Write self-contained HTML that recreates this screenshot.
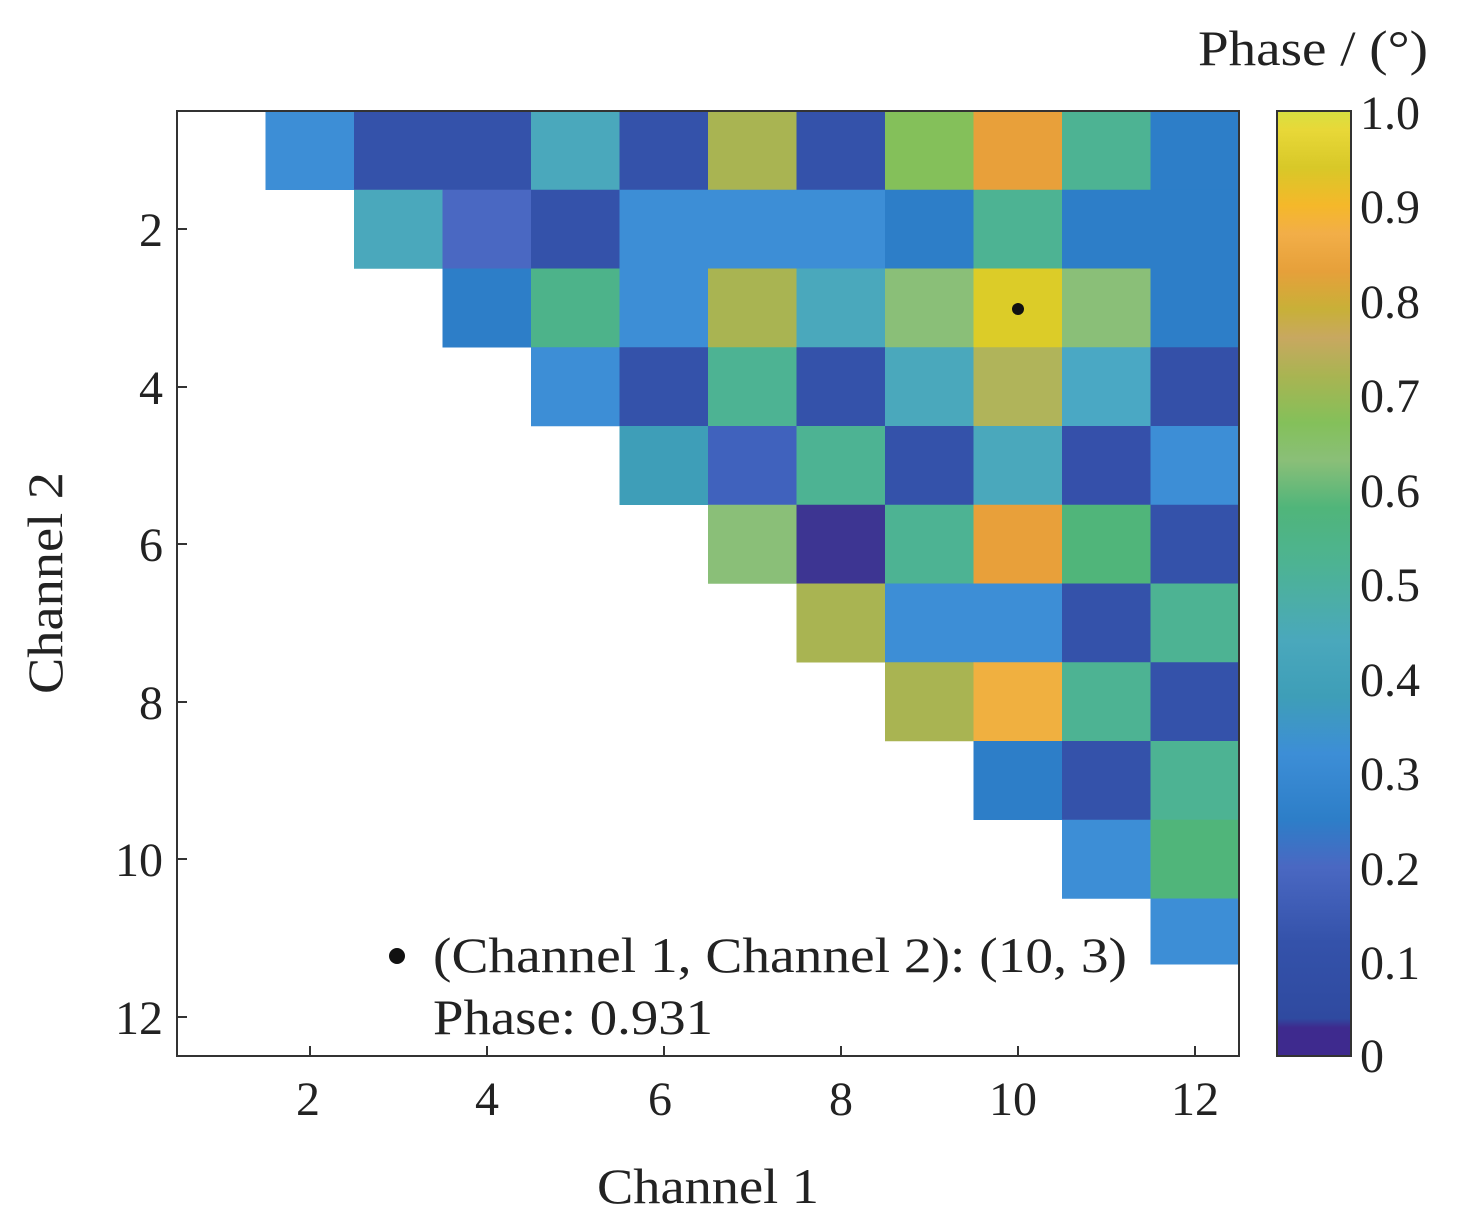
<!DOCTYPE html>
<html><head><meta charset="utf-8"><style>
body{margin:0;background:#fff;}
svg{display:block;font-family:"Liberation Serif",serif;}
</style></head><body>
<svg width="1476" height="1232" viewBox="0 0 1476 1232" xmlns="http://www.w3.org/2000/svg">
<rect width="1476" height="1232" fill="#fff"/>
<g>
<!-- row1 y=111 -->
<rect x="265.5" y="111" width="89" height="79" fill="#3d8ed6"/>
<rect x="354" y="111" width="89" height="79" fill="#3452aa"/>
<rect x="442.5" y="111" width="89" height="79" fill="#3452aa"/>
<rect x="531" y="111" width="89" height="79" fill="#4aa8bc"/>
<rect x="619.5" y="111" width="89" height="79" fill="#3452aa"/>
<rect x="708" y="111" width="89" height="79" fill="#a9b452"/>
<rect x="796.5" y="111" width="89" height="79" fill="#3452aa"/>
<rect x="885" y="111" width="89" height="79" fill="#84c05a"/>
<rect x="973.5" y="111" width="89" height="79" fill="#e8a03a"/>
<rect x="1062" y="111" width="89" height="79" fill="#4db393"/>
<rect x="1150.5" y="111" width="89" height="79" fill="#2d7ec8"/>
<!-- row2 -->
<rect x="354" y="189.75" width="89" height="79" fill="#4aa8bc"/>
<rect x="442.5" y="189.75" width="89" height="79" fill="#4a68c2"/>
<rect x="531" y="189.75" width="89" height="79" fill="#3452aa"/>
<rect x="619.5" y="189.75" width="266" height="79" fill="#3d8ed6"/>
<rect x="885" y="189.75" width="89" height="79" fill="#2d7ec8"/>
<rect x="973.5" y="189.75" width="89" height="79" fill="#4db393"/>
<rect x="1062" y="189.75" width="178" height="79" fill="#2d7ec8"/>
<!-- row3 -->
<rect x="442.5" y="268.5" width="89" height="79" fill="#2d7ec8"/>
<rect x="531" y="268.5" width="89" height="79" fill="#4db38a"/>
<rect x="619.5" y="268.5" width="89" height="79" fill="#3d8ed6"/>
<rect x="708" y="268.5" width="89" height="79" fill="#a9b452"/>
<rect x="796.5" y="268.5" width="89" height="79" fill="#4aa8bc"/>
<rect x="885" y="268.5" width="89" height="79" fill="#8abf78"/>
<rect x="973.5" y="268.5" width="89" height="79" fill="#dccc28"/>
<rect x="1062" y="268.5" width="89" height="79" fill="#8abf78"/>
<rect x="1150.5" y="268.5" width="89" height="79" fill="#2d7ec8"/>
<!-- row4 -->
<rect x="531" y="347.25" width="89" height="79" fill="#3d8ed6"/>
<rect x="619.5" y="347.25" width="89" height="79" fill="#3452aa"/>
<rect x="708" y="347.25" width="89" height="79" fill="#4db393"/>
<rect x="796.5" y="347.25" width="89" height="79" fill="#3452aa"/>
<rect x="885" y="347.25" width="89" height="79" fill="#4aa8bc"/>
<rect x="973.5" y="347.25" width="89" height="79" fill="#b0b45a"/>
<rect x="1062" y="347.25" width="89" height="79" fill="#4aa8c4"/>
<rect x="1150.5" y="347.25" width="89" height="79" fill="#3450a8"/>
<!-- row5 -->
<rect x="619.5" y="426" width="89" height="79" fill="#3e9eb8"/>
<rect x="708" y="426" width="89" height="79" fill="#4062bd"/>
<rect x="796.5" y="426" width="89" height="79" fill="#4db393"/>
<rect x="885" y="426" width="89" height="79" fill="#3452aa"/>
<rect x="973.5" y="426" width="89" height="79" fill="#4aa8bc"/>
<rect x="1062" y="426" width="89" height="79" fill="#3550aa"/>
<rect x="1150.5" y="426" width="89" height="79" fill="#3d8ed6"/>
<!-- row6 -->
<rect x="708" y="504.75" width="89" height="79" fill="#8abf78"/>
<rect x="796.5" y="504.75" width="89" height="79" fill="#3d3592"/>
<rect x="885" y="504.75" width="89" height="79" fill="#4db393"/>
<rect x="973.5" y="504.75" width="89" height="79" fill="#e8a03a"/>
<rect x="1062" y="504.75" width="89" height="79" fill="#50b57a"/>
<rect x="1150.5" y="504.75" width="89" height="79" fill="#3452aa"/>
<!-- row7 -->
<rect x="796.5" y="583.5" width="89" height="79" fill="#a9b452"/>
<rect x="885" y="583.5" width="178" height="79" fill="#3d8ed6"/>
<rect x="1062" y="583.5" width="89" height="79" fill="#3452aa"/>
<rect x="1150.5" y="583.5" width="89" height="79" fill="#4db393"/>
<!-- row8 -->
<rect x="885" y="662.25" width="89" height="79" fill="#a9b452"/>
<rect x="973.5" y="662.25" width="89" height="79" fill="#f0b040"/>
<rect x="1062" y="662.25" width="89" height="79" fill="#4db393"/>
<rect x="1150.5" y="662.25" width="89" height="79" fill="#3452aa"/>
<!-- row9 -->
<rect x="973.5" y="741" width="89" height="79" fill="#2d7ec8"/>
<rect x="1062" y="741" width="89" height="79" fill="#3452aa"/>
<rect x="1150.5" y="741" width="89" height="79" fill="#4db393"/>
<!-- row10 -->
<rect x="1062" y="819.75" width="89" height="79" fill="#3d8ed6"/>
<rect x="1150.5" y="819.75" width="89" height="79" fill="#50b57a"/>
<!-- row11 -->
<rect x="1150.5" y="898.5" width="89" height="66" fill="#3d8ed6"/>
</g>
<defs><linearGradient id="cb" x1="0" y1="1" x2="0" y2="0">
<stop offset="0" stop-color="#3e2a8e"/><stop offset="0.03" stop-color="#3e2a8e"/>
<stop offset="0.04" stop-color="#2f4aa0"/><stop offset="0.12" stop-color="#3452aa"/>
<stop offset="0.2" stop-color="#4a68c2"/><stop offset="0.25" stop-color="#2d7ec8"/>
<stop offset="0.32" stop-color="#3d8ed6"/><stop offset="0.38" stop-color="#3e9eb8"/>
<stop offset="0.44" stop-color="#4aa8bc"/><stop offset="0.52" stop-color="#4db393"/>
<stop offset="0.58" stop-color="#50b57a"/><stop offset="0.63" stop-color="#8abf78"/>
<stop offset="0.67" stop-color="#84c05a"/><stop offset="0.72" stop-color="#a9b452"/>
<stop offset="0.76" stop-color="#c8a860"/><stop offset="0.79" stop-color="#c8b038"/>
<stop offset="0.83" stop-color="#e6a03a"/><stop offset="0.87" stop-color="#f2ae48"/>
<stop offset="0.9" stop-color="#f5b82a"/><stop offset="0.94" stop-color="#d8c828"/>
<stop offset="0.98" stop-color="#e8d838"/><stop offset="1" stop-color="#d8e040"/>
</linearGradient></defs>
<rect x="177" y="111" width="1062" height="945" fill="none" stroke="#333" stroke-width="2"/>
<g stroke="#333" stroke-width="2">
<line x1="310" y1="1056" x2="310" y2="1046"/><line x1="487" y1="1056" x2="487" y2="1046"/>
<line x1="664" y1="1056" x2="664" y2="1046"/><line x1="841" y1="1056" x2="841" y2="1046"/>
<line x1="1018" y1="1056" x2="1018" y2="1046"/><line x1="1195" y1="1056" x2="1195" y2="1046"/>
<line x1="177" y1="229" x2="187" y2="229"/><line x1="177" y1="387" x2="187" y2="387"/>
<line x1="177" y1="544" x2="187" y2="544"/><line x1="177" y1="702" x2="187" y2="702"/>
<line x1="177" y1="859" x2="187" y2="859"/><line x1="177" y1="1017" x2="187" y2="1017"/>
</g>
<g font-size="48" fill="#222" text-anchor="middle">
<text x="308" y="1115">2</text><text x="487" y="1115">4</text><text x="660" y="1115">6</text>
<text x="841" y="1115">8</text><text x="1013" y="1115">10</text><text x="1195" y="1115">12</text>
</g>
<g font-size="48" fill="#222" text-anchor="end">
<text x="163" y="246">2</text><text x="163" y="404">4</text><text x="163" y="561">6</text>
<text x="163" y="719">8</text><text x="163" y="876">10</text><text x="163" y="1034">12</text>
</g>
<text x="597" y="1203" font-size="50" fill="#222" textLength="222" lengthAdjust="spacingAndGlyphs">Channel 1</text>
<text transform="translate(62,694) rotate(-90)" font-size="50" fill="#222" textLength="222" lengthAdjust="spacingAndGlyphs">Channel 2</text>
<circle cx="1018" cy="309" r="6" fill="#111"/>
<circle cx="397" cy="956" r="8" fill="#111"/>
<text x="433" y="972" font-size="50" fill="#222" textLength="694" lengthAdjust="spacingAndGlyphs">(Channel 1, Channel 2): (10, 3)</text>
<text x="433" y="1034" font-size="50" fill="#222" textLength="280" lengthAdjust="spacingAndGlyphs">Phase: 0.931</text>
<rect x="1277" y="111" width="74" height="945" fill="url(#cb)" stroke="#333" stroke-width="2"/>
<g font-size="48" fill="#222">
<text x="1360" y="129">1.0</text><text x="1360" y="223">0.9</text><text x="1360" y="318">0.8</text>
<text x="1360" y="412">0.7</text><text x="1360" y="507">0.6</text><text x="1360" y="601">0.5</text>
<text x="1360" y="696">0.4</text><text x="1360" y="790">0.3</text><text x="1360" y="885">0.2</text>
<text x="1360" y="979">0.1</text><text x="1360" y="1072">0</text>
</g>
<text x="1198" y="65" font-size="50" fill="#222" textLength="230" lengthAdjust="spacingAndGlyphs">Phase / (°)</text>
</svg>
</body></html>
